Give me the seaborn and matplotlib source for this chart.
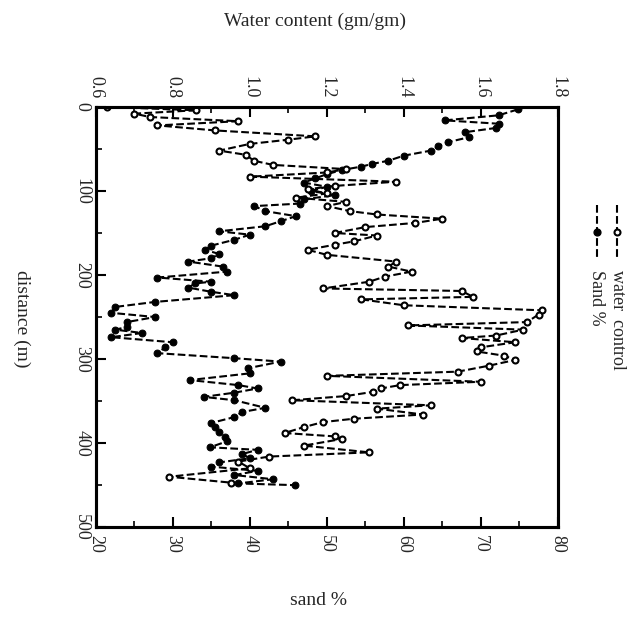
import matplotlib
matplotlib.use("Agg")
import matplotlib.pyplot as plt
import seaborn as sns
import numpy as np
import pandas as pd
from matplotlib.lines import Line2D
from matplotlib.ticker import MultipleLocator

sns.set_theme(style="white")
plt.rcParams['font.family'] = ['Liberation Serif', 'DejaVu Serif']

# ---- data ----
water_dist = [0, 4, 8, 12, 17, 22, 28, 35, 39, 44, 52, 57, 64, 69, 74, 78, 83, 89, 94, 98,
              103, 108, 113, 118, 124, 128, 133, 138, 143, 150, 153, 160, 164, 170, 176, 184,
              190, 196, 202, 208, 216, 219, 226, 229, 236, 242, 247, 256, 260, 265, 272, 275,
              280, 286, 291, 296, 301, 308, 315, 320, 327, 331, 335, 339, 344, 349, 355, 359,
              366, 371, 375, 381, 388, 392, 395, 403, 411, 416, 422, 430, 440, 447]
water = [0.63, 0.86, 0.70, 0.74, 0.97, 0.76, 0.91, 1.17, 1.10, 1.00, 0.92, 0.99, 1.01, 1.06,
         1.25, 1.20, 1.00, 1.38, 1.22, 1.15, 1.20, 1.12, 1.25, 1.20, 1.26, 1.33, 1.50, 1.43,
         1.30, 1.22, 1.33, 1.27, 1.22, 1.15, 1.20, 1.38, 1.36, 1.42, 1.35, 1.31, 1.19, 1.55,
         1.58, 1.29, 1.40, 1.76, 1.75, 1.72, 1.41, 1.71, 1.64, 1.55, 1.69, 1.60, 1.59, 1.66,
         1.69, 1.62, 1.54, 1.20, 1.60, 1.39, 1.34, 1.32, 1.25, 1.11, 1.47, 1.33, 1.45, 1.27,
         1.19, 1.14, 1.09, 1.22, 1.24, 1.14, 1.31, 1.05, 0.97, 1.00, 0.79, 0.95]

sand_dist = [3, 10, 16, 20, 25, 30, 36, 42, 47, 52, 58, 64, 68, 71, 75, 80, 85, 90, 95, 100,
             105, 110, 115, 118, 124, 130, 136, 142, 148, 152, 158, 165, 170, 175, 180, 184,
             190, 196, 203, 208, 210, 215, 220, 224, 232, 238, 245, 250, 256, 262, 265, 269,
             274, 280, 286, 293, 299, 303, 311, 317, 325, 331, 335, 340, 345, 349, 358, 363,
             369, 376, 381, 387, 393, 398, 405, 408, 413, 418, 423, 428, 433, 438, 443, 448, 450]
sand = [74.8, 72.3, 65.3, 72.3, 72.0, 68.0, 68.5, 65.7, 64.4, 63.5, 60.0, 58.0, 55.8, 54.5,
        52.0, 50.0, 48.5, 47.0, 50.0, 48.0, 51.0, 47.0, 46.5, 40.6, 42.0, 46.0, 44.0, 42.0,
        36.0, 40.0, 38.0, 35.0, 34.2, 36.0, 35.0, 32.0, 36.5, 37.0, 28.0, 35.0, 32.9, 32.0,
        35.0, 38.0, 27.7, 22.5, 22.0, 27.7, 24.0, 24.0, 22.5, 26.0, 22.0, 30.0, 29.0, 28.0,
        38.0, 44.0, 39.7, 40.0, 32.2, 38.5, 41.0, 38.0, 34.0, 38.0, 42.0, 39.0, 38.0, 35.0,
        35.5, 36.0, 36.8, 37.0, 34.8, 41.0, 39.0, 40.0, 36.0, 35.0, 41.0, 38.0, 43.0, 38.5, 45.8]

sand_ticks = [20, 30, 40, 50, 60, 70, 80]
water_ticks = [0.6, 0.8, 1.0, 1.2, 1.4, 1.6, 1.8]
dist_ticks = [0, 100, 200, 300, 400, 500]

df_w = pd.DataFrame({"distance": water_dist, "water": water})
df_s = pd.DataFrame({"distance": sand_dist, "sand": sand})

fig = plt.figure(figsize=(6.31, 6.18), dpi=100)
ax = fig.add_axes([0.152, 0.147, 0.732, 0.680])
axt = ax.twiny()

lw = 1.5
ms = 4.3
sns.lineplot(data=df_s, x="sand", y="distance", sort=False, estimator=None, ax=ax,
             color="black", linestyle="--", linewidth=lw, marker="o", markersize=ms + 0.6,
             markerfacecolor="black", markeredgecolor="black")
sns.lineplot(data=df_w, x="water", y="distance", sort=False, estimator=None, ax=axt,
             color="black", linestyle="--", linewidth=lw, marker="o", markersize=ms,
             markerfacecolor="white", markeredgecolor="black", markeredgewidth=1.5)

ax.set_xlim(20, 80)
axt.set_xlim(0.6, 1.8)
ax.set_ylim(500, 0)

ax.set_xticks(sand_ticks)
ax.set_xticklabels([str(t) for t in sand_ticks])
ax.xaxis.set_minor_locator(MultipleLocator(5))
axt.set_xticks(water_ticks)
axt.set_xticklabels([f"{t:.1f}" for t in water_ticks])
axt.xaxis.set_minor_locator(MultipleLocator(0.1))
ax.set_yticks(dist_ticks)
ax.set_yticklabels([str(t) for t in dist_ticks])
ax.yaxis.set_minor_locator(MultipleLocator(50))

ax.set_xlabel("")
ax.set_ylabel("")
axt.set_xlabel("")
axt.set_ylabel("")

fs = 13
ax.tick_params(axis="x", which="both", direction="in", bottom=True, top=False,
               labelrotation=-90, labelsize=fs, pad=6, color="black")
ax.tick_params(axis="x", which="major", length=7, width=1.5)
ax.tick_params(axis="x", which="minor", length=4, width=1.2)
axt.tick_params(axis="x", which="both", direction="in", top=True, bottom=False,
                labelrotation=-90, labelsize=fs, pad=6, color="black")
axt.tick_params(axis="x", which="major", length=7, width=1.5)
axt.tick_params(axis="x", which="minor", length=4, width=1.2)
ax.tick_params(axis="y", which="both", direction="in", left=True, right=False,
               labelrotation=-90, labelsize=fs, pad=4, color="black")
ax.tick_params(axis="y", which="major", length=7, width=1.5)
ax.tick_params(axis="y", which="minor", length=4, width=1.2)
for lab in ax.get_yticklabels():
    lab.set_va("center")

for a in (ax, axt):
    for s in a.spines.values():
        s.set_color("black")
        s.set_linewidth(2.2)

fig.text(0.50, 0.965, "Water content (gm/gm)", ha="center", va="center", fontsize=14)
fig.text(0.504, 0.028, "sand %", ha="center", va="center", fontsize=14)
fig.text(0.035, 0.485, "distance (m)", ha="center", va="center", fontsize=14, rotation=-90)

# legend (rotated)
lx_w, lx_s = 0.978, 0.946
ly_top, ly_bot = 1 - 205 / 618, 1 - 260 / 618
ly_mid = (ly_top + ly_bot) / 2
fig.add_artist(Line2D([lx_w, lx_w], [ly_top, ly_bot], color="black", linestyle="--",
                      linewidth=lw, transform=fig.transFigure))
fig.add_artist(Line2D([lx_w], [ly_mid], color="black", marker="o", markersize=ms,
                      markerfacecolor="white", markeredgewidth=1.5, transform=fig.transFigure))
fig.add_artist(Line2D([lx_s, lx_s], [ly_top, ly_bot], color="black", linestyle="--",
                      linewidth=lw, transform=fig.transFigure))
fig.add_artist(Line2D([lx_s], [ly_mid], color="black", marker="o", markersize=ms + 0.6,
                      markerfacecolor="black", transform=fig.transFigure))
fig.text(lx_w, 1 - 270 / 618, "water  control", ha="center", va="top", fontsize=13, rotation=-90)
fig.text(lx_s, 1 - 270 / 618, "Sand %", ha="center", va="top", fontsize=13, rotation=-90)

fig.savefig("out.png", dpi=100)
